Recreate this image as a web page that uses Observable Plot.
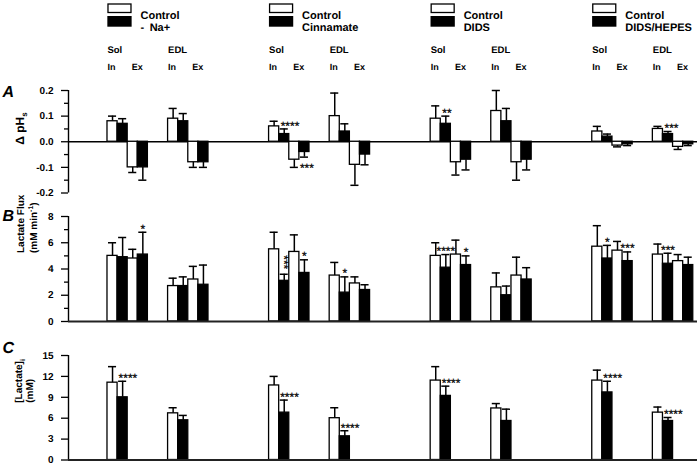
<!DOCTYPE html>
<html><head><meta charset="utf-8">
<script src="https://cdn.jsdelivr.net/npm/d3@7"></script>
<script src="https://cdn.jsdelivr.net/npm/@observablehq/plot@0.6"></script>
<style>
body{margin:0;background:#fff;}
#chart{width:697px;height:466px;position:relative;overflow:hidden;background:#fff;}
#chart svg{display:block;}
#chart text{text-rendering:geometricPrecision;}
</style></head><body><div id="chart"></div>
<script>
// ---------------- data ----------------
const conditions = ["-\u2002Na+", "Cinnamate", "DIDS", "DIDS/HEPES"];
const muscles = ["Sol", "EDL"];
const sides = ["In", "Ex"];
const treatments = ["Control", "Treated"];

// Panel A: ΔpHs. Per condition: Sol In (C,T), Sol Ex (C,T), EDL In (C,T), EDL Ex (C,T)
const pHsMean = [
  [0.08, 0.07, -0.10, -0.10, 0.09, 0.08, -0.08, -0.08],
  [0.06, 0.03, -0.07, -0.04, 0.10, 0.04, -0.09, -0.05],
  [0.09, 0.07, -0.08, -0.07, 0.12, 0.08, -0.08, -0.07],
  [0.04, 0.02, -0.015, -0.01, 0.05, 0.03, -0.02, -0.01]
];
const pHsErr = [
  [0.02, 0.02, 0.02, 0.05, 0.04, 0.03, 0.02, 0.02],
  [0.02, 0.02, 0.03, 0.02, 0.09, 0.03, 0.08, 0.04],
  [0.05, 0.03, 0.05, 0.04, 0.08, 0.05, 0.07, 0.04],
  [0.02, 0.01, 0.005, 0.005, 0.01, 0.01, 0.01, 0.005]
];
const pHsSig = [
  ["", "", "", "", "", "", "", ""],
  ["", "****", "", "***", "", "", "", ""],
  ["", "**", "", "", "", "", "", ""],
  ["", "", "", "", "", "***", "", ""]
];

// Panel B: Lactate flux (mM min-1)
const fluxMean = [
  [5.0, 4.9, 4.8, 5.1, 2.7, 2.7, 3.2, 2.8],
  [5.5, 3.1, 5.3, 3.7, 3.5, 2.2, 2.9, 2.4],
  [5.0, 4.1, 5.1, 4.3, 2.6, 2.0, 3.5, 3.2],
  [5.7, 4.8, 5.4, 4.6, 5.1, 4.4, 4.6, 4.3]
];
const fluxErr = [
  [1.0, 1.5, 0.7, 1.7, 0.6, 0.7, 1.0, 1.5],
  [1.3, 0.5, 1.3, 1.0, 1.0, 1.2, 0.5, 0.4],
  [1.0, 1.0, 1.1, 0.7, 1.1, 0.7, 1.4, 0.9],
  [1.6, 1.0, 0.7, 0.7, 0.8, 0.8, 0.5, 0.6]
];
const fluxSig = [
  ["", "", "", "*", "", "", "", ""],
  ["", "***", "", "*", "", "*", "", ""],
  ["", "****", "", "*", "", "", "", ""],
  ["", "*", "", "***", "", "***", "", ""]
];
const fluxSigVertical = [{condition: 1, index: 1}];

// Panel C: [Lactate]i (mM). Per condition: Sol (C,T), EDL (C,T)
const lacMean = [
  [11.1, 9.0, 6.7, 5.7],
  [10.7, 6.8, 6.0, 3.4],
  [11.4, 9.2, 7.4, 5.6],
  [11.4, 9.7, 6.8, 5.6]
];
const lacErr = [
  [2.3, 2.3, 0.8, 0.7],
  [1.3, 1.8, 1.5, 0.8],
  [2.0, 1.4, 0.7, 1.7],
  [1.5, 1.6, 0.8, 0.5]
];
const lacSig = [
  ["", "****", "", ""],
  ["", "****", "", "****"],
  ["", "****", "", ""],
  ["", "****", "", "****"]
];

const ticksA = [-0.2, -0.1, 0, 0.1, 0.2];
const minorA = [-0.15, -0.05, 0.05, 0.15];
const ticksB = [0, 2, 4, 6, 8];
const minorB = [1, 3, 5, 7];
const ticksC = [0, 3, 6, 9, 12, 15];

// ---------------- layout ----------------
const GROUP_STEP = 16, MUSCLE_STEP = 6, CAP = 0.4;
const XDOMAIN = [-3.86, 58.42];
const FONT = "'Liberation Sans', Arial, Helvetica, sans-serif";

function rowsFor(means, errs, sigs, perMuscle, vertical = []) {
  const rows = [];
  means.forEach((arr, c) => arr.forEach((v, i) => {
    const m = Math.floor(i / perMuscle), k = i % perMuscle;
    const x1 = c * GROUP_STEP + m * MUSCLE_STEP + k;
    const e = errs[c][i];
    rows.push({
      c, m, k, treatment: treatments[k % 2], value: v, err: e,
      tip: v >= 0 ? v + e : v - e, x1, x2: x1 + 1, xc: x1 + 0.5,
      sig: sigs[c][i], vertical: vertical.some(d => d.condition === c && d.index === i)
    });
  }));
  return rows;
}

const rowsA = rowsFor(pHsMean, pHsErr, pHsSig, 4);
const rowsB = rowsFor(fluxMean, fluxErr, fluxSig, 4, fluxSigVertical);
const rowsC = rowsFor(lacMean, lacErr, lacSig, 2);

function barMarks(rows) {
  return [
    Plot.rect(rows, {x1: "x1", x2: "x2", y1: () => 0, y2: "value", fill: "treatment", stroke: "black", strokeWidth: 1.3}),
    Plot.ruleX(rows, {x: "xc", y1: "value", y2: "tip", stroke: "black", strokeWidth: 1.5}),
    Plot.ruleY(rows, {y: "tip", x1: d => d.xc - CAP, x2: d => d.xc + CAP, stroke: "black", strokeWidth: 1.5})
  ];
}

function axisMarks(ticks, minor, fmt) {
  const m = [
    Plot.ruleX([XDOMAIN[0]], {stroke: "black", strokeWidth: 1.4}),
    Plot.axisY({ticks, tickFormat: fmt, tickSize: 7, tickPadding: 8, label: null, fontWeight: "bold", fontSize: 10, strokeWidth: 1.3, fill: "black"})
  ];
  if (minor) m.push(Plot.axisY({ticks: minor, tickFormat: () => "", tickSize: 4, label: null, strokeWidth: 1.3}));
  return m;
}

const common = {
  width: 697, marginLeft: 68, marginRight: 0,
  x: {domain: XDOMAIN, axis: null},
  color: {domain: treatments, range: ["white", "black"]},
  style: {fontFamily: FONT, fontSize: "10px", fontWeight: "bold", background: "white", color: "black", overflow: "visible"}
};

const starStyle = {fontSize: 12, fontWeight: "normal", fill: "black", stroke: "black", strokeWidth: 0.25};
const letter = (t, dy) => Plot.text([t], {text: d => d, frameAnchor: "top-left", dx: -66, dy, textAnchor: "start", fontSize: 16, fontStyle: "italic", fontWeight: "bold", fill: "black"});

// header labels
const legendRows = conditions.map((name, c) => ({name, x: c * GROUP_STEP}));
const muscleRows = conditions.flatMap((_, c) => muscles.map((name, m) => ({name, x: c * GROUP_STEP + m * MUSCLE_STEP})));
const sideRows = conditions.flatMap((_, c) => muscles.flatMap((_, m) => sides.map((name, s) => ({name, x: c * GROUP_STEP + m * MUSCLE_STEP + s * 2.4}))));

// ---------------- Panel A ----------------
const plotA = Plot.plot({
  ...common, height: 200, marginTop: 90, marginBottom: 7.5,
  y: {domain: [-0.2, 0.2], axis: null},
  marks: [
    ...axisMarks(ticksA, minorA, d => d.toFixed(1)),
    Plot.ruleY([0], {stroke: "black", strokeWidth: 1.3}),
    ...barMarks(rowsA),
    Plot.text(rowsA.filter(d => d.sig && d.value >= 0), {x: d => d.x1 + 0.15, y: "tip", text: "sig", textAnchor: "start", dy: -3, ...starStyle}),
    Plot.text(rowsA.filter(d => d.sig && d.value < 0), {x: d => d.x1 + 0.05, y: "tip", text: "sig", textAnchor: "start", dy: 11, ...starStyle}),
    Plot.text(legendRows, {x: "x", text: () => "Control", frameAnchor: "top", dx: 33, dy: -79, textAnchor: "start", fontSize: 11, fill: "black"}),
    Plot.text(legendRows, {x: "x", text: "name", frameAnchor: "top", dx: 33, dy: -67, textAnchor: "start", fontSize: 11, fill: "black"}),
    Plot.text(muscleRows, {x: "x", text: "name", frameAnchor: "top", dy: -44.5, textAnchor: "start", fontSize: 9.5, fill: "black"}),
    Plot.text(sideRows, {x: "x", text: "name", frameAnchor: "top", dy: -27, textAnchor: "start", fontSize: 9, fill: "black"}),
    letter("A", -5),
    Plot.text(["\u0394 pH"], {text: d => d, frameAnchor: "left", rotate: -90, dx: -48, dy: 3, fontSize: 12, fontWeight: "bold", fill: "black"})
  ]
});

// ---------------- Panel B ----------------
const plotB = Plot.plot({
  ...common, height: 130, marginTop: 16, marginBottom: 9,
  y: {domain: [0, 8], axis: null},
  marks: [
    ...axisMarks(ticksB, minorB, d => String(d)),
    ...barMarks(rowsB),
    Plot.ruleY([0], {stroke: "#222", strokeWidth: 2.2}),
    Plot.text(rowsB.filter(d => d.sig && !d.vertical), {x: "xc", y: "tip", text: "sig", textAnchor: "middle", dy: -3.5, ...starStyle}),
    Plot.text(rowsB.filter(d => d.sig && d.vertical), {x: "xc", y: "tip", text: "sig", rotate: 90, dy: -12, ...starStyle}),
    letter("B", -7),
    Plot.text(["Lactate Flux\n(mM min-1)"], {text: d => d, frameAnchor: "left", rotate: -90, dx: -42, dy: -16, lineHeight: 1.25, fontSize: 10, fontWeight: "bold", fill: "black"})
  ]
});

// ---------------- Panel C ----------------
const plotC = Plot.plot({
  ...common, height: 136, marginTop: 25, marginBottom: 6.5,
  y: {domain: [0, 15], axis: null},
  marks: [
    ...axisMarks(ticksC, null, d => String(d)),
    ...barMarks(rowsC),
    Plot.ruleY([0], {stroke: "#222", strokeWidth: 2}),
    Plot.text(rowsC.filter(d => d.sig), {x: d => d.x1 + 0.1, y: "tip", text: "sig", textAnchor: "start", dy: -3, ...starStyle}),
    letter("C", -14),
    Plot.text(["[Lactate]\n(mM)"], {text: d => d, frameAnchor: "left", rotate: -90, dx: -44.5, dy: -5, lineHeight: 1.15, fontSize: 10, fontWeight: "bold", fill: "black"})
  ]
});

// ---------------- rich text (sub/superscripts) ----------------
function richify(svg, plain, parts) {
  d3.select(svg).selectAll("text, tspan").each(function () {
    if (this.childElementCount === 0 && this.textContent === plain) {
      const el = d3.select(this);
      el.text(null);
      parts.forEach(p => {
        const t = el.append("tspan").text(p.text);
        if (p.shift) t.attr("baseline-shift", p.shift).style("font-size", p.size + "px");
      });
    }
  });
}
richify(plotA, "\u0394 pH", [{text: "\u0394 pH"}, {text: "s", shift: -3, size: 8}]);
richify(plotB, "(mM min-1)", [{text: "(mM min"}, {text: "-1", shift: 4, size: 7}, {text: ")"}]);
richify(plotC, "[Lactate]", [{text: "[Lactate]"}, {text: "i", shift: -3, size: 7}]);

// ---------------- legend boxes (positioned with the x scale) ----------------
const sx = plotA.scale("x");
const gLeg = d3.select(plotA).append("g");
legendRows.forEach(d => {
  const x0 = sx.apply(d.x) + 1;
  gLeg.append("rect").attr("x", x0).attr("y", 4).attr("width", 23).attr("height", 8.5)
    .attr("fill", "white").attr("stroke", "black").attr("stroke-width", 1.3);
  gLeg.append("rect").attr("x", x0 - 0.65).attr("y", 16).attr("width", 24.3).attr("height", 10.7)
    .attr("fill", "black");
});

const chart = document.getElementById("chart");
chart.append(plotA, plotB, plotC);
</script>
</body></html>
